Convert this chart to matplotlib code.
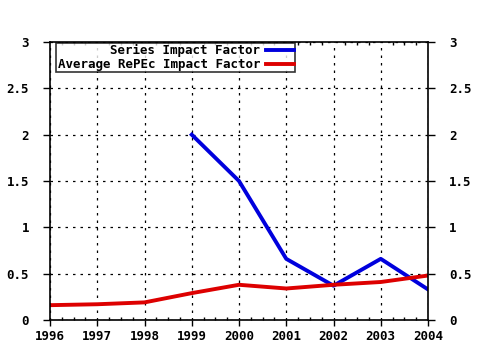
import matplotlib
matplotlib.use("Agg")
import matplotlib.pyplot as plt
from matplotlib.ticker import MultipleLocator

years = [1996, 1997, 1998, 1999, 2000, 2001, 2002, 2003, 2004]
series_years = [1999, 2000, 2001, 2002, 2003, 2004]
series_if = [2.0, 1.5, 0.66, 0.37, 0.66, 0.33]
avg_if = [0.16, 0.17, 0.19, 0.29, 0.38, 0.34, 0.38, 0.41, 0.48]
yticks = [0, 0.5, 1, 1.5, 2, 2.5, 3]
ylabels = ["0", "0.5", "1", "1.5", "2", "2.5", "3"]

plt.rcParams['font.family'] = ['DejaVu Sans Mono']
plt.rcParams['font.weight'] = 'bold'

fig = plt.figure(figsize=(4.8, 3.5), dpi=100)
ax = fig.add_axes([50/480, 1-320/350, 378/480, 278/350])

ax.plot(series_years, series_if, color='#0000dd', lw=2.8, label='Series Impact Factor')
ax.plot(years, avg_if, color='#dd0000', lw=2.8, label='Average RePEc Impact Factor')

ax.set_xlim(1996, 2004)
ax.set_ylim(0, 3)
ax.set_xticks(years)
ax.set_xticklabels([str(y) for y in years], fontsize=9, fontweight='bold')
ax.set_yticks(yticks)
ax.set_yticklabels(ylabels, fontsize=9, fontweight='bold')
ax.xaxis.set_minor_locator(MultipleLocator(0.25))
ax.grid(True, which='major', color='black', linestyle=(0, (2, 4)), lw=0.9)

ax.tick_params(axis='y', which='major', direction='out', length=5, left=True, right=True,
               labelleft=True, labelright=True, pad=10, width=1)
ax.tick_params(axis='x', which='major', direction='out', length=4, top=False, pad=3, width=1)
ax.tick_params(axis='x', which='minor', direction='in', length=2, top=True, bottom=True, width=1)
for s in ax.spines.values():
    s.set_linewidth(1.2)

leg = ax.legend(loc='upper left', bbox_to_anchor=(0.015, 1.0), fontsize=9, frameon=True,
                fancybox=False, edgecolor='black', markerfirst=False, handlelength=2.2,
                borderpad=0.1, labelspacing=0.1, borderaxespad=0.05, handletextpad=0.5,
                alignment='right')
leg.get_frame().set_linewidth(1.2)
for t in leg.get_texts():
    t.set_ha('right')
leg._legend_box.align = 'right'

fig.savefig('out.png', dpi=100)
